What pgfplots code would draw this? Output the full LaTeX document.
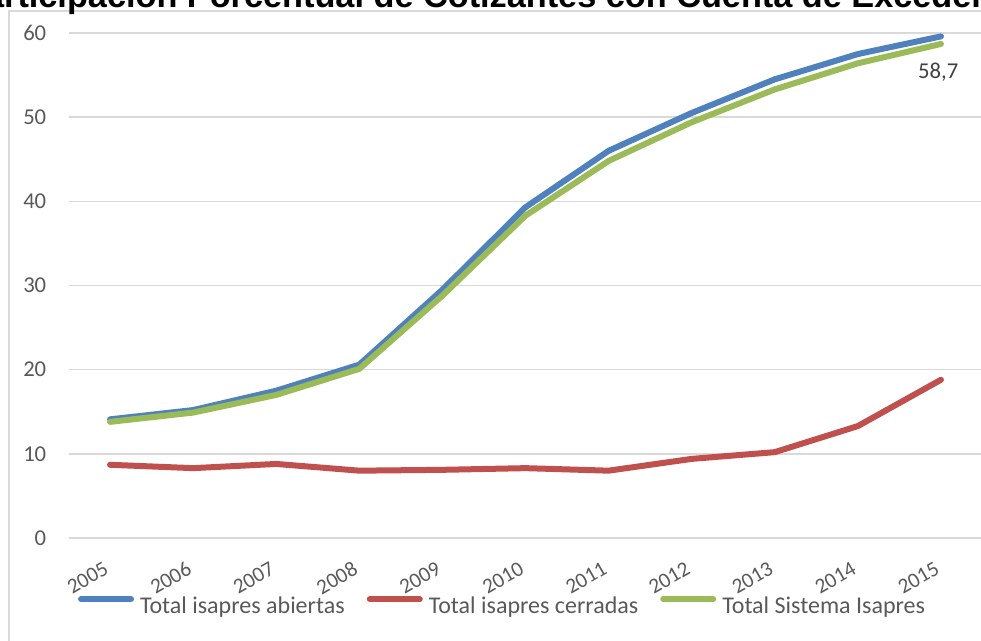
\documentclass[border=0pt]{standalone}
\usepackage{fontspec}
\setmainfont{Carlito}
\newfontfamily\titlefont{Liberation Sans}
\usepackage{pgfplots}
\pgfplotsset{compat=1.18}
\definecolor{cblue}{HTML}{4F81BD}
\definecolor{cred}{HTML}{C0504D}
\definecolor{cgreen}{HTML}{9BBB59}
\definecolor{cgrid}{HTML}{D9D9D9}
\definecolor{ctext}{HTML}{595959}
\definecolor{clabel}{HTML}{404040}
\begin{document}
\begin{tikzpicture}
\draw[cgrid, line width=0.9pt] (6.75pt,-10pt) -- (6.75pt,471.75pt) -- (760pt,471.75pt);
\node[anchor=base west, inner sep=0pt, font=\titlefont\bfseries\fontsize{25.7pt}{30pt}\selectfont] at (-28.5pt,474.4pt) {Participación Porcentual de Cotizantes con Cuenta de Excedentes};
\begin{axis}[
  at={(51.375pt,76.5pt)}, anchor=south west,
  scale only axis, width=685.5pt, height=378.75pt,
  xmin=-0.5, xmax=10.5, ymin=0, ymax=60,
  xtick={0,...,10},
  xticklabels={2005,2006,2007,2008,2009,2010,2011,2012,2013,2014,2015},
  ytick={0,10,...,60},
  axis line style={draw=none},
  major tick length=0pt,
  ymajorgrids, grid style={cgrid, line width=1.1pt},
  clip=false,
  /pgf/number format/assume math mode=true,
  xticklabel style={font=\fontsize{16pt}{18pt}\selectfont, text=ctext, inner sep=0pt, xshift=-2.625pt, yshift=-21.75pt, rotate=30, anchor=east},
  yticklabel style={font=\fontsize{17pt}{20pt}\selectfont, text=ctext, inner sep=0pt, anchor=east, xshift=-16.5pt},
  legend columns=3,
  legend style={at={(axis description cs:0.0104,-0.1347)}, anchor=west, draw=none, fill=none, inner sep=0pt, outer sep=0pt,
    font=\fontsize{18pt}{20pt}\selectfont, text=ctext,
    nodes={inner xsep=4.5pt, inner ysep=0pt},
    /tikz/every even column/.append style={column sep=12pt}},
  legend cell align=left,
  legend image code/.code={\draw[#1, line width=4.5pt, line cap=round] (2.25pt,5.5pt) -- (39.75pt,5.5pt);},
]
\addplot[cblue, line width=4.5pt, line cap=round, line join=round] coordinates {(0,14.1)(1,15.2)(2,17.5)(3,20.6)(4,29.5)(5,39.3)(6,46.0)(7,50.5)(8,54.5)(9,57.5)(10,59.6)};
\addlegendentry{Total isapres abiertas}
\addplot[cred, line width=4.5pt, line cap=round, line join=round] coordinates {(0,8.7)(1,8.3)(2,8.8)(3,8.0)(4,8.1)(5,8.3)(6,8.0)(7,9.4)(8,10.2)(9,13.3)(10,18.8)};
\addlegendentry{Total isapres cerradas}
\addplot[cgreen, line width=4.5pt, line cap=round, line join=round] coordinates {(0,13.8)(1,14.9)(2,17.0)(3,20.1)(4,28.8)(5,38.3)(6,44.8)(7,49.4)(8,53.3)(9,56.4)(10,58.7)};
\addlegendentry{Total Sistema Isapres}
\node[font=\fontsize{17pt}{20pt}\selectfont, text=clabel, inner sep=0pt] at (axis cs:10,58.7) [xshift=-2pt, yshift=-21pt] {58,7};
\end{axis}
\pgfresetboundingbox
\path[use as bounding box] (0,0) rectangle (735.75pt,480pt);
\end{tikzpicture}
\end{document}
